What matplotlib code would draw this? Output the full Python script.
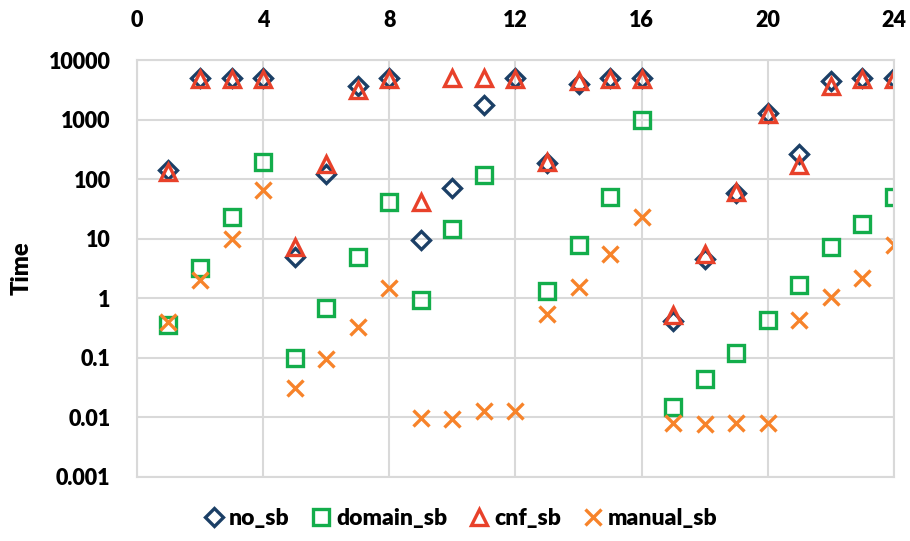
import numpy as np
import matplotlib
matplotlib.use("Agg")
import matplotlib.pyplot as plt

plt.rcParams["font.family"] = ["Lato", "DejaVu Sans"]
plt.rcParams["font.weight"] = "heavy"

# ---- data: solve time per benchmark instance (log scale) ----
instances = list(range(1, 25))
nan = np.nan
no_sb = [140, 5000, 5000, 5000, 5.0, 120, 3600, 5000, 9.5, 70, 1750, 5000,
         190, 4000, 5000, 5000, 0.42, 4.5, 58, 1300, 260, 4500, 5000, 5000]
domain_sb = [0.35, 3.2, 23, 195, 0.10, 0.70, 4.9, 41, 0.93, 14.5, 117, nan,
             1.35, 7.8, 50, 1000, 0.015, 0.045, 0.12, 0.44, 1.7, 7.2, 18, 50]
cnf_sb = [130, 4800, 4800, 4800, 7.2, 180, 3100, 4800, 41, 5000, 5000, 4800,
          195, 4500, 4800, 4800, 0.52, 5.6, 61, 1250, 170, 3700, 4800, 4800]
manual_sb = [0.40, 2.0, 9.8, 66, 0.031, 0.095, 0.33, 1.47, 0.0098, 0.0095, 0.013, 0.013,
             0.54, 1.55, 5.5, 23, 0.0080, 0.0077, 0.0080, 0.0082, 0.43, 1.07, 2.2, 7.8]

series = [
    ("no_sb", no_sb, "D", "#1B3F66", 9),
    ("domain_sb", domain_sb, "s", "#13AD4B", 11),
    ("cnf_sb", cnf_sb, "^", "#E8412A", 11.5),
    ("manual_sb", manual_sb, "x", "#F7832A", 11),
]

fig = plt.figure(figsize=(9.1, 5.41), dpi=100)
ax = fig.add_axes([0.1505, 0.1183, 0.8319, 0.7707])

for name, vals, mk, col, ms in series:
    ax.plot(instances, vals, linestyle="none", marker=mk, markersize=ms,
            markerfacecolor="none", markeredgecolor=col, markeredgewidth=2.4,
            label=name)

ax.set_yscale("log")
ax.set_ylim(0.001, 10000)
ax.set_xlim(0, 24)
ax.set_xticks(range(0, 25, 4))
ax.set_yticks([0.001, 0.01, 0.1, 1, 10, 100, 1000, 10000])
ax.set_yticklabels(["0.001", "0.01", "0.1", "1", "10", "100", "1000", "10000"])
ax.minorticks_off()
ax.xaxis.tick_top()
ax.tick_params(axis="x", length=0, pad=21, labelsize=15.5)
ax.tick_params(axis="y", length=0, pad=19, labelsize=15.5)

ax.grid(True, color="#D9D9D9", linewidth=1.5)
ax.set_axisbelow(True)
for sp in ax.spines.values():
    sp.set_color("#D9D9D9")
    sp.set_linewidth(1.5)

ax.set_ylabel("Time", fontsize=17, fontweight="heavy")
ax.yaxis.set_label_coords(-0.138, 0.5)

ax.legend(loc="center", bbox_to_anchor=(0.425, -0.1), ncol=4, frameon=False,
          fontsize=16.5, handletextpad=0.05, columnspacing=0.8, handlelength=1.2)

fig.savefig("out.png", dpi=100)
